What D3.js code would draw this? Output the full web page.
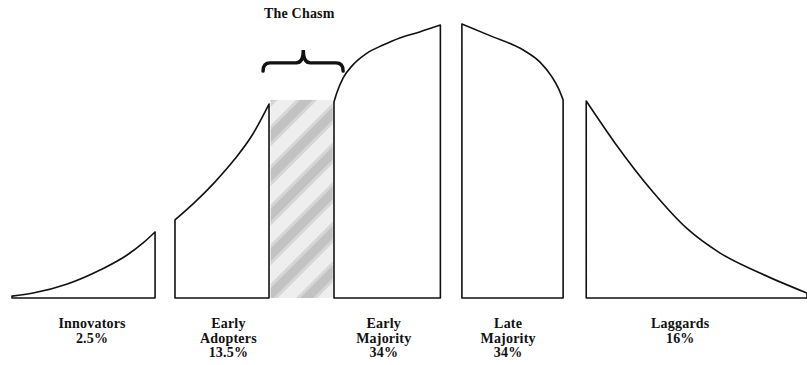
<!DOCTYPE html>
<meta charset="utf-8">
<style>
  body { margin: 0; background: #fff; }
  svg text { font-family: "Liberation Serif", "Times New Roman", serif; font-weight: bold; font-size: 14px; letter-spacing: 0.2px; fill: #111; }
</style>
<div id="chart"></div>
<script src="https://d3js.org/d3.v7.min.js"></script>
<script>

// segment names and label lines
var segments = ["Innovators", "Early Adopters", "Early Majority", "Late Majority", "Laggards"];
var labelLines = [["Innovators", "2.5%"], ["Early", "Adopters", "13.5%"], ["Early", "Majority", "34%"], ["Late", "Majority", "34%"], ["Laggards", "16%"]];
var labelX = [10.3, 27.4, 46.9, 62.5, 84.1];

// curve tops: [position, height] (0-100 units)
var innovators = [[0.25, 0.7], [2.9, 1.8], [7.2, 5.1], [11.3, 10.2], [14.7, 15.7], [16.7, 20.1], [18.2, 24.1]];
var earlyAdopters = [[20.7, 28.5], [23.2, 35.0], [25.7, 42.3], [28.2, 50.7], [30.4, 59.5], [32.5, 70.8]];
var earlyMajority = [[40.65, 71.5], [41.0, 74.8], [41.8, 80.3], [43.0, 85.0], [44.8, 89.4], [46.8, 92.3], [48.9, 94.9], [51.4, 97.1], [54.0, 99.6]];
var lateMajority = [[56.7, 100], [60.6, 95.3], [64.4, 90.5], [66.5, 86.1], [68.0, 80.7], [68.8, 76.6], [69.4, 72.3]];
var laggards = [[72.3, 71.9], [75.9, 56.6], [80.7, 38.6], [85.0, 25.2], [89.1, 16.4], [94.1, 9.1], [100, 1.8]];

// the chasm: [from, to] and its height
var chasm = [32.7, 40.5];
var chasmTop = 72.3;
// brace over the chasm: [left, tip, right] and [end, bar, tip] heights
var braceX = [31.75, 36.8, 41.8];
var braceY = [82.8, 85.8, 90.5];

var width = 807, height = 365;

var svg = d3.select("#chart")
  .append("svg")
    .attr("width", width)
    .attr("height", height);

var x = d3.scaleLinear().domain([0, 100]).range([10, 807]);
var y = d3.scaleLinear().domain([0, 100]).range([298, 24]);

// soft diagonal stripes for the chasm
var defs = svg.append("defs");
var pat = defs.append("pattern")
    .attr("id", "hatch")
    .attr("patternUnits", "userSpaceOnUse")
    .attr("width", 28)
    .attr("height", 28)
    .attr("patternTransform", "rotate(45)");
pat.append("rect").attr("width", 28).attr("height", 28).attr("fill", "#eeeeee");
pat.append("rect").attr("x", 0).attr("width", 15).attr("height", 28).attr("fill", "#d6d6d6");
pat.append("rect").attr("x", 3).attr("width", 9).attr("height", 28).attr("fill", "#c2c2c2");

svg.append("rect")
    .attr("x", x(chasm[0]))
    .attr("y", y(chasmTop))
    .attr("width", x(chasm[1]) - x(chasm[0]))
    .attr("height", y(0) - y(chasmTop))
    .attr("fill", "url(#hatch)");

var line = d3.line()
    .x(function(d) { return x(d[0]); })
    .y(function(d) { return y(d[1]); })
    .curve(d3.curveMonotoneX);

var curves = [innovators, earlyAdopters, earlyMajority, lateMajority, laggards];

svg.append("g")
  .selectAll("path")
  .data(curves)
  .enter().append("path")
    .attr("d", function(d) {
      var first = d[0], last = d[d.length - 1];
      return line(d) + "L" + x(last[0]) + "," + y(0) + "L" + x(first[0]) + "," + y(0) + "Z";
    })
    .attr("fill", "none")
    .attr("stroke", "#111")
    .attr("stroke-width", 1.6)
    .attr("stroke-linejoin", "round");

// brace
var bx0 = x(braceX[0]), bxm = x(braceX[1]), bx1 = x(braceX[2]);
var byEnd = y(braceY[0]), byBar = y(braceY[1]), byTip = y(braceY[2]);
svg.append("path")
    .attr("d", "M" + bx0 + "," + byEnd +
      "Q" + bx0 + "," + byBar + " " + (bx0 + 7) + "," + byBar +
      "L" + (bxm - 7) + "," + byBar +
      "Q" + bxm + "," + byBar + " " + bxm + "," + byTip +
      "Q" + bxm + "," + byBar + " " + (bxm + 7) + "," + byBar +
      "L" + (bx1 - 7) + "," + byBar +
      "Q" + bx1 + "," + byBar + " " + bx1 + "," + byEnd)
    .attr("fill", "none")
    .attr("stroke", "#111")
    .attr("stroke-width", 3.4)
    .attr("stroke-linecap", "round");

svg.append("text")
    .attr("x", bxm - 4)
    .attr("y", 18)
    .attr("text-anchor", "middle")
    .text("The Chasm");

// labels under each segment
var labels = svg.append("g")
  .selectAll("text")
  .data(segments)
  .enter().append("text")
    .attr("text-anchor", "middle")
    .attr("y", 328);

labels.selectAll("tspan")
  .data(function(d, i) { return labelLines[i].map(function(t) { return {t: t, i: i}; }); })
  .enter().append("tspan")
    .attr("x", function(d) { return x(labelX[d.i]); })
    .attr("dy", function(d, j) { return j === 0 ? 0 : 14.5; })
    .text(function(d) { return d.t; });

</script>
